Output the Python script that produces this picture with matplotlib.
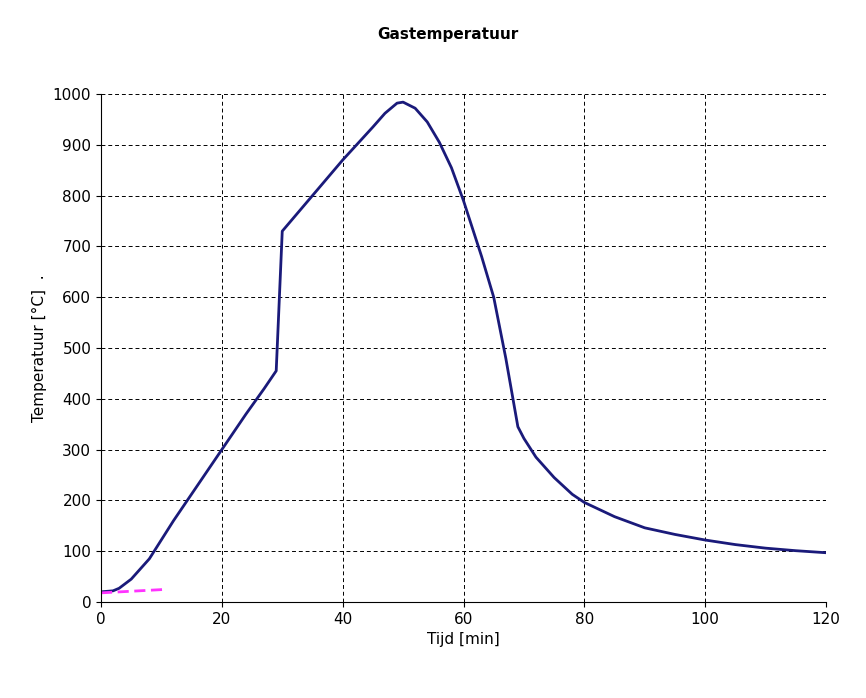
import matplotlib
matplotlib.use("Agg")
import matplotlib.pyplot as plt

t = [0, 2, 3, 5, 8, 12, 16, 20, 24, 27, 29, 30, 35, 40, 45, 47, 49, 50, 52, 54, 56, 58, 60, 63, 65, 67, 69, 70, 72, 75, 78, 80, 85, 90, 95, 100, 105, 110, 115, 120]
T = [20, 22, 27, 45, 85, 160, 230, 300, 370, 420, 455, 730, 800, 870, 935, 962, 982, 984, 972, 945, 905, 855, 790, 680, 600, 480, 345, 322, 285, 245, 212, 196, 168, 146, 133, 122, 113, 106, 101, 97]
t2 = [0, 11]
T2 = [18, 25]

fig = plt.figure(figsize=(8.66, 6.98), dpi=100)
ax = fig.add_axes([101/866, 1-602/698, 725/866, 508/698])
ax.plot(t, T, color="#1a1a7a", lw=2)
ax.plot(t2, T2, color="#ff33ff", lw=2, ls=(0, (4, 2)))
ax.set_xlim(0, 120)
ax.set_ylim(0, 1000)
ax.set_xticks(range(0, 121, 20))
ax.set_yticks(range(0, 1001, 100))
ax.grid(True, color="black", ls=(0, (4, 3)), lw=0.7)
for s in ["top", "right"]:
    ax.spines[s].set_visible(False)
ax.tick_params(labelsize=11)
ax.set_xlabel("Tijd [min]", fontsize=11)
ax.set_ylabel("Temperatuur [°C]  .", fontsize=11)
fig.text(448/866, 1-35/698, "Gastemperatuur", ha="center", va="center", fontsize=11, fontweight="bold")
fig.savefig("out.png", dpi=100)
